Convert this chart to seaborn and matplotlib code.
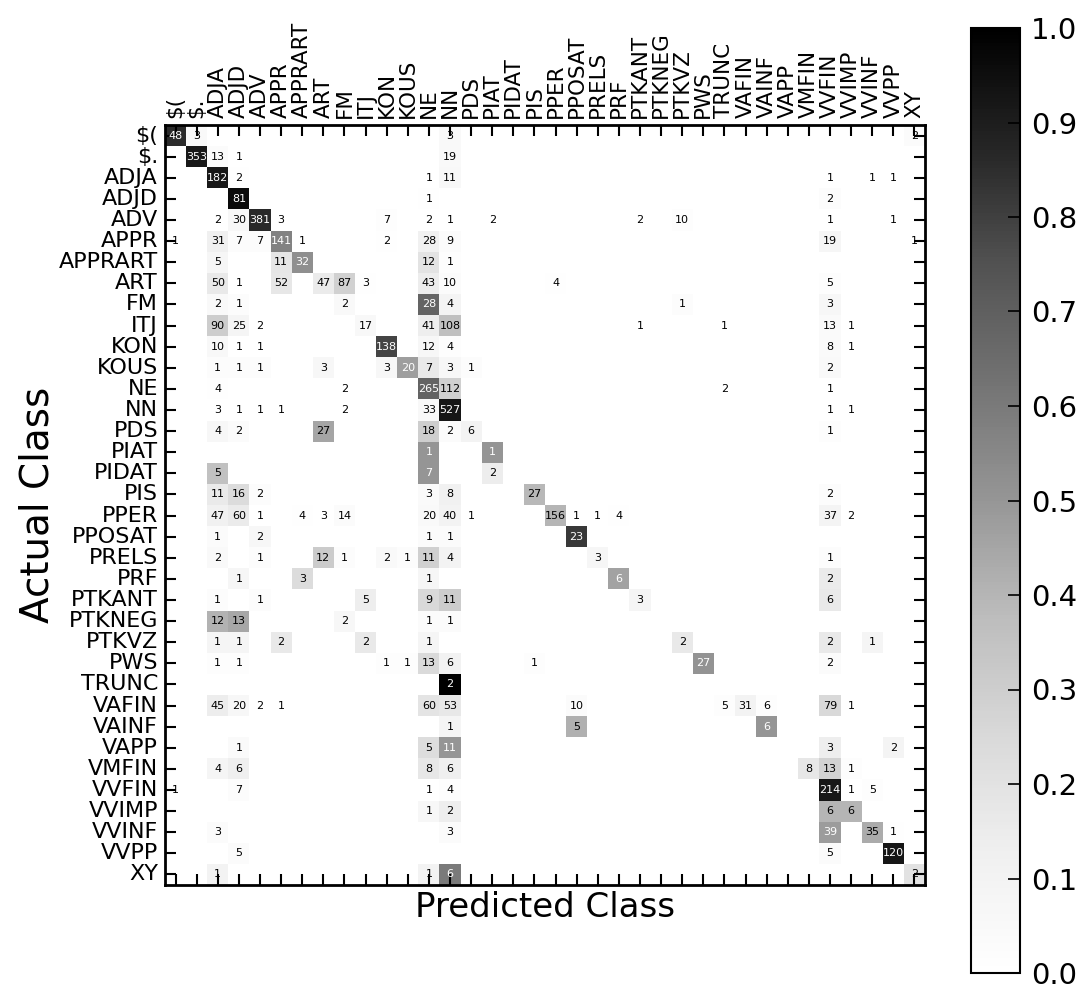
import numpy as np
import pandas as pd
import matplotlib
matplotlib.use("Agg")
import matplotlib.pyplot as plt
import seaborn as sns

classes = ["$(", "$.", "ADJA", "ADJD", "ADV", "APPR", "APPRART", "ART", "FM", "ITJ",
           "KON", "KOUS", "NE", "NN", "PDS", "PIAT", "PIDAT", "PIS", "PPER", "PPOSAT",
           "PRELS", "PRF", "PTKANT", "PTKNEG", "PTKVZ", "PWS", "TRUNC", "VAFIN", "VAINF",
           "VAPP", "VMFIN", "VVFIN", "VVIMP", "VVINF", "VVPP", "XY"]

# non-zero cells: (actual, predicted, count)
cells_actual = []
cells_predicted = []
cells_count = []

def add(actual, entries):
    for pred, cnt in entries:
        cells_actual.append(actual)
        cells_predicted.append(pred)
        cells_count.append(cnt)

add("$(", [("$(", 48), ("$.", 3), ("NN", 3), ("XY", 2)])
add("$.", [("$.", 353), ("ADJA", 13), ("ADJD", 1), ("NN", 19)])
add("ADJA", [("ADJA", 182), ("ADJD", 2), ("NE", 1), ("NN", 11), ("VVFIN", 1), ("VVINF", 1), ("VVPP", 1)])
add("ADJD", [("ADJD", 81), ("NE", 1), ("VVFIN", 2)])
add("ADV", [("ADJA", 2), ("ADJD", 30), ("ADV", 381), ("APPR", 3), ("KON", 7), ("NE", 2), ("NN", 1),
            ("PIAT", 2), ("PTKANT", 2), ("PTKVZ", 10), ("VVFIN", 1), ("VVPP", 1)])
add("APPR", [("$(", 1), ("ADJA", 31), ("ADJD", 7), ("ADV", 7), ("APPR", 141), ("APPRART", 1), ("KON", 2),
             ("NE", 28), ("NN", 9), ("VVFIN", 19), ("XY", 1)])
add("APPRART", [("ADJA", 5), ("APPR", 11), ("APPRART", 32), ("NE", 12), ("NN", 1)])
add("ART", [("ADJA", 50), ("ADJD", 1), ("APPR", 52), ("ART", 47), ("FM", 87), ("ITJ", 3), ("NE", 43),
            ("NN", 10), ("PPER", 4), ("VVFIN", 5)])
add("FM", [("ADJA", 2), ("ADJD", 1), ("FM", 2), ("NE", 28), ("NN", 4), ("PTKVZ", 1), ("VVFIN", 3)])
add("ITJ", [("ADJA", 90), ("ADJD", 25), ("ADV", 2), ("ITJ", 17), ("NE", 41), ("NN", 108), ("PTKANT", 1),
            ("TRUNC", 1), ("VVFIN", 13), ("VVIMP", 1)])
add("KON", [("ADJA", 10), ("ADJD", 1), ("ADV", 1), ("KON", 138), ("NE", 12), ("NN", 4), ("VVFIN", 8), ("VVIMP", 1)])
add("KOUS", [("ADJA", 1), ("ADJD", 1), ("ADV", 1), ("ART", 3), ("KON", 3), ("KOUS", 20), ("NE", 7),
             ("NN", 3), ("PDS", 1), ("VVFIN", 2)])
add("NE", [("ADJA", 4), ("FM", 2), ("NE", 265), ("NN", 112), ("TRUNC", 2), ("VVFIN", 1)])
add("NN", [("ADJA", 3), ("ADJD", 1), ("ADV", 1), ("APPR", 1), ("FM", 2), ("NE", 33), ("NN", 527),
           ("VVFIN", 1), ("VVIMP", 1)])
add("PDS", [("ADJA", 4), ("ADJD", 2), ("ART", 27), ("NE", 18), ("NN", 2), ("PDS", 6), ("VVFIN", 1)])
add("PIAT", [("NE", 1), ("PIAT", 1)])
add("PIDAT", [("ADJA", 5), ("NE", 7), ("PIAT", 2)])
add("PIS", [("ADJA", 11), ("ADJD", 16), ("ADV", 2), ("NE", 3), ("NN", 8), ("PIS", 27), ("VVFIN", 2)])
add("PPER", [("ADJA", 47), ("ADJD", 60), ("ADV", 1), ("APPRART", 4), ("ART", 3), ("FM", 14), ("NE", 20),
             ("NN", 40), ("PDS", 1), ("PPER", 156), ("PPOSAT", 1), ("PRELS", 1), ("PRF", 4),
             ("VVFIN", 37), ("VVIMP", 2)])
add("PPOSAT", [("ADJA", 1), ("ADV", 2), ("NE", 1), ("NN", 1), ("PPOSAT", 23)])
add("PRELS", [("ADJA", 2), ("ADV", 1), ("ART", 12), ("FM", 1), ("KON", 2), ("KOUS", 1), ("NE", 11),
              ("NN", 4), ("PRELS", 3), ("VVFIN", 1)])
add("PRF", [("ADJD", 1), ("APPRART", 3), ("NE", 1), ("PRF", 6), ("VVFIN", 2)])
add("PTKANT", [("ADJA", 1), ("ADV", 1), ("ITJ", 5), ("NE", 9), ("NN", 11), ("PTKANT", 3), ("VVFIN", 6)])
add("PTKNEG", [("ADJA", 12), ("ADJD", 13), ("FM", 2), ("NE", 1), ("NN", 1)])
add("PTKVZ", [("ADJA", 1), ("ADJD", 1), ("APPR", 2), ("ITJ", 2), ("NE", 1), ("PTKVZ", 2), ("VVFIN", 2), ("VVINF", 1)])
add("PWS", [("ADJA", 1), ("ADJD", 1), ("KON", 1), ("KOUS", 1), ("NE", 13), ("NN", 6), ("PIS", 1),
            ("PWS", 27), ("VVFIN", 2)])
add("TRUNC", [("NN", 2)])
add("VAFIN", [("ADJA", 45), ("ADJD", 20), ("ADV", 2), ("APPR", 1), ("NE", 60), ("NN", 53), ("PPOSAT", 10),
              ("TRUNC", 5), ("VAFIN", 31), ("VAINF", 6), ("VVFIN", 79), ("VVIMP", 1)])
add("VAINF", [("NN", 1), ("PPOSAT", 5), ("VAINF", 6)])
add("VAPP", [("ADJD", 1), ("NE", 5), ("NN", 11), ("VVFIN", 3), ("VVPP", 2)])
add("VMFIN", [("ADJA", 4), ("ADJD", 6), ("NE", 8), ("NN", 6), ("VMFIN", 8), ("VVFIN", 13), ("VVIMP", 1)])
add("VVFIN", [("$(", 1), ("ADJD", 7), ("NE", 1), ("NN", 4), ("VVFIN", 214), ("VVIMP", 1), ("VVINF", 5)])
add("VVIMP", [("NE", 1), ("NN", 2), ("VVFIN", 6), ("VVIMP", 6)])
add("VVINF", [("ADJA", 3), ("NN", 3), ("VVFIN", 39), ("VVINF", 35), ("VVPP", 1)])
add("VVPP", [("ADJD", 5), ("VVFIN", 5), ("VVPP", 120)])
add("XY", [("ADJA", 1), ("NE", 1), ("NN", 6), ("XY", 2)])

df = pd.DataFrame({"actual": cells_actual, "predicted": cells_predicted, "count": cells_count})
counts = (df.pivot_table(index="actual", columns="predicted", values="count", aggfunc="sum")
            .reindex(index=classes, columns=classes).fillna(0))
norm = counts.div(counts.sum(axis=1), axis=0)
annot = counts.astype(int).astype(str).where(counts > 0, "")

plt.rcParams["font.family"] = ["DejaVu Sans"]
plt.rcParams["text.color"] = "black"
plt.rcParams["axes.labelcolor"] = "black"

fig = plt.figure(figsize=(10.88, 9.9), dpi=100)
ax = fig.add_axes([165 / 1088, 1 - 885 / 990, 760 / 1088, 760 / 990])
cax = fig.add_axes([971 / 1088, 1 - 973 / 990, 49 / 1088, 945 / 990])

sns.heatmap(norm, ax=ax, cbar_ax=cax, cmap="Greys", vmin=0, vmax=1,
            annot=annot.values, fmt="", annot_kws={"fontsize": 8},
            xticklabels=classes, yticklabels=classes, square=False, linewidths=0)

for txt, v in zip(ax.texts, norm.values.flat):
    txt.set_color("white" if v > 0.455 else "black")

ax.set_axisbelow(False)
for s in ax.spines.values():
    s.set_visible(True)
    s.set_linewidth(2)
    s.set_color("black")

ax.xaxis.tick_top()
ax.tick_params(axis="both", which="major", direction="in", length=8, width=1.5,
               top=True, bottom=True, left=True, right=True,
               labeltop=True, labelbottom=False, labelleft=True, labelright=False,
               pad=5, color="black", labelcolor="black")
ax.tick_params(axis="x", labelsize=15.5)
ax.tick_params(axis="y", labelsize=16)
plt.setp(ax.get_xticklabels(), rotation=90, ha="center", va="bottom")
plt.setp(ax.get_yticklabels(), rotation=0)

ax.set_xlabel("Predicted Class", fontsize=24.5, labelpad=4)
ax.xaxis.set_label_position("bottom")
ax.set_ylabel("Actual Class", fontsize=28, labelpad=2)

cbar = ax.collections[0].colorbar
cbar.set_ticks(np.arange(0, 1.01, 0.1))
cbar.ax.yaxis.set_major_formatter(matplotlib.ticker.FormatStrFormatter("%.1f"))
cax.tick_params(direction="in", length=9, width=1.2, labelsize=21, right=True, left=False,
                pad=8, color="black", labelcolor="black")
cbar.outline.set_visible(True)
cbar.outline.set_linewidth(1.5)
cbar.outline.set_edgecolor("black")

fig.savefig("out.png", dpi=100)
